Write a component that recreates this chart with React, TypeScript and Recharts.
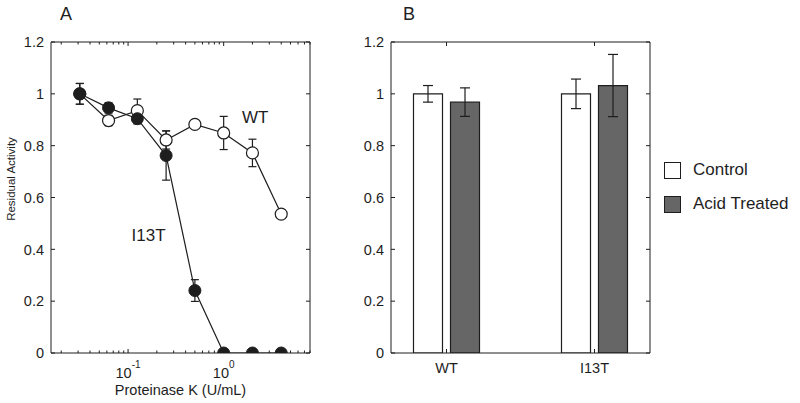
import React from "react";
import {
  LineChart,
  Line,
  BarChart,
  Bar,
  XAxis,
  YAxis,
  ErrorBar,
  Legend,
} from "recharts";

const FONT = "'Liberation Sans', Arial, Helvetica, sans-serif";
const INK = "#1e1e1e";
const GREY = "#666666";

// ---- panel A: proteinase K digestion ----
const doses = [0.03125, 0.0625, 0.125, 0.25, 0.5, 1, 2, 4];
const wtActivity = [1.0, 0.897, 0.935, 0.822, 0.882, 0.849, 0.772, 0.536];
const wtError = [0.04, 0.02, 0.045, 0.035, 0.01, 0.064, 0.053, 0.01];
const i13tActivity = [1.0, 0.946, 0.904, 0.762, 0.241, 0, 0, 0];
const i13tError = [0.04, 0.02, 0.02, 0.095, 0.042, 0, 0, 0];

const doseDomain = [0.015625, 8];
const doseMajorTicks = [0.1, 1];
const doseMinorTicks = [
  0.02, 0.03, 0.04, 0.05, 0.06, 0.07, 0.08, 0.09,
  0.2, 0.3, 0.4, 0.5, 0.6, 0.7, 0.8, 0.9,
  2, 3, 4, 5, 6, 7, 8,
];
const doseTicks = [...doseMinorTicks, ...doseMajorTicks].sort((a, b) => a - b);
const activityDomain = [0, 1.2];
const activityTicks = [0, 0.2, 0.4, 0.6, 0.8, 1, 1.2];

// ---- panel B: acid treatment ----
const strains = ["WT", "I13T"];
const strainPositions = [1, 2];
const strainDomain = [0.625, 2.375];
const controlActivity = [1.0, 1.0];
const controlError = [0.032, 0.057];
const acidActivity = [0.968, 1.032];
const acidError = [0.055, 0.12];
const legendOrder = ["Control", "Acid Treated"];
const legendFill: Record<string, string> = { Control: "#ffffff", "Acid Treated": GREY };

const proteolysisData = doses.map((dose, i) => ({
  dose,
  wt: wtActivity[i],
  wtErr: wtError[i],
  i13t: i13tActivity[i],
  i13tErr: i13tError[i],
}));

const acidData = strains.map((strain, i) => ({
  strain,
  pos: strainPositions[i],
  control: controlActivity[i],
  controlErr: controlError[i],
  acid: acidActivity[i],
  acidErr: acidError[i],
}));

// layout
const CHART_H = 403;
const Y_AXIS_W = 51;
const X_AXIS_H = 50;
const TOP = 42;
const PLOT_H = CHART_H - TOP - X_AXIS_H;
const A_W = 330;
const A_RIGHT = 20;
const B_W = 460;
const B_RIGHT = 150;
const PLOT_W = A_W - Y_AXIS_W - A_RIGHT; // both panels share the same box size

const textProps = { fontFamily: FONT, fill: INK };
const TICK_FONT = 14.5;

// position helpers for the box frame (top/right edges only carry tick marks)
const yPix = (v: number) =>
  TOP + PLOT_H * (1 - (v - activityDomain[0]) / (activityDomain[1] - activityDomain[0]));
const logPix = (v: number) => {
  const lo = Math.log10(doseDomain[0]);
  const hi = Math.log10(doseDomain[1]);
  return Y_AXIS_W + (PLOT_W * (Math.log10(v) - lo)) / (hi - lo);
};
const strainPix = (v: number) =>
  Y_AXIS_W + (PLOT_W * (v - strainDomain[0])) / (strainDomain[1] - strainDomain[0]);

const doseTickLen = (v: number) => (doseMajorTicks.includes(v) ? 4 : 2.5);

// overlay svg that closes the axis box and mirrors the ticks on top/right
function BoxFrame({
  width,
  xTicks,
  xPix,
  tickLen,
}: {
  width: number;
  xTicks: number[];
  xPix: (v: number) => number;
  tickLen: (v: number) => number;
}) {
  const right = Y_AXIS_W + PLOT_W;
  return (
    <svg
      width={width}
      height={CHART_H}
      style={{ position: "absolute", left: 0, top: 0, pointerEvents: "none" }}
    >
      <line x1={Y_AXIS_W} y1={TOP} x2={right} y2={TOP} stroke={INK} />
      <line x1={right} y1={TOP} x2={right} y2={TOP + PLOT_H} stroke={INK} />
      {xTicks.map((v) => (
        <line key={`t${v}`} x1={xPix(v)} y1={TOP} x2={xPix(v)} y2={TOP + tickLen(v)} stroke={INK} />
      ))}
      {activityTicks.map((v) => (
        <line key={`r${v}`} x1={right} y1={yPix(v)} x2={right - 4} y2={yPix(v)} stroke={INK} />
      ))}
    </svg>
  );
}

// ticks point into the plot box, matlab style
function leftTick(props: any) {
  const { x, y, payload } = props;
  return (
    <g>
      <line x1={x} y1={y} x2={x + 4} y2={y} stroke={INK} />
      <text x={x - 7} y={y} dy="0.36em" textAnchor="end" fontSize={TICK_FONT} {...textProps}>
        {String(payload.value)}
      </text>
    </g>
  );
}

function logTick(props: any) {
  const { x, y, payload } = props;
  const major = doseMajorTicks.includes(payload.value);
  const exp = Math.round(Math.log10(payload.value));
  return (
    <g>
      <line x1={x} y1={y} x2={x} y2={y - doseTickLen(payload.value)} stroke={INK} />
      {major && (
        <text x={x} y={y + 25} textAnchor="middle" fontSize={TICK_FONT} {...textProps}>
          10
          <tspan dy={-10} fontSize={10}>
            {exp}
          </tspan>
        </text>
      )}
    </g>
  );
}

function strainTick(props: any) {
  const { x, y, index } = props;
  return (
    <g>
      <line x1={x} y1={y} x2={x} y2={y - 4} stroke={INK} />
      <text x={x} y={y + 19.5} textAnchor="middle" fontSize={TICK_FONT} {...textProps}>
        {strains[index]}
      </text>
    </g>
  );
}

function AcidLegend({ payload }: any) {
  const items = [...(payload ?? [])].sort(
    (a: any, b: any) => legendOrder.indexOf(a.value) - legendOrder.indexOf(b.value)
  );
  return (
    <div style={{ fontFamily: FONT, fontSize: 17, color: INK }}>
      {items.map((entry: any) => (
        <div
          key={entry.value}
          style={{ display: "flex", alignItems: "center", height: 34.3 }}
        >
          <span
            style={{
              width: 15,
              height: 15,
              border: `1.5px solid ${INK}`,
              background: legendFill[entry.value],
              marginRight: 12,
            }}
          />
          <span>{entry.value}</span>
        </div>
      ))}
    </div>
  );
}

const axisLine = { stroke: INK, strokeWidth: 1 };

function ProteolysisPanel() {
  return (
    <LineChart
      width={A_W}
      height={CHART_H}
      data={proteolysisData}
      margin={{ top: TOP, right: A_RIGHT, bottom: 0, left: 0 }}
    >
      <XAxis
        dataKey="dose"
        type="number"
        scale="log"
        domain={doseDomain}
        allowDataOverflow
        ticks={doseTicks}
        interval={0}
        height={X_AXIS_H}
        tickSize={0}
        tickMargin={0}
        tickLine={false}
        axisLine={axisLine}
        tick={logTick}
      />
      <YAxis
        type="number"
        domain={activityDomain}
        allowDataOverflow
        ticks={activityTicks}
        interval={0}
        width={Y_AXIS_W}
        tickSize={0}
        tickMargin={0}
        tickLine={false}
        axisLine={axisLine}
        tick={leftTick}
      />
      <Line
        type="linear"
        dataKey="wt"
        stroke={INK}
        strokeWidth={1.2}
        dot={{ r: 6, fill: "#ffffff", stroke: INK, strokeWidth: 1.2 }}
        isAnimationActive={false}
      >
        <ErrorBar dataKey="wtErr" direction="y" width={4} stroke={INK} strokeWidth={1.2} />
      </Line>
      <Line
        type="linear"
        dataKey="i13t"
        stroke={INK}
        strokeWidth={1.2}
        dot={{ r: 6, fill: INK, stroke: INK, strokeWidth: 1 }}
        isAnimationActive={false}
      >
        <ErrorBar dataKey="i13tErr" direction="y" width={4} stroke={INK} strokeWidth={1.2} />
      </Line>
      <text x={60} y={20} fontSize={18} {...textProps}>A</text>
      <text x={242} y={122.5} fontSize={17} {...textProps}>WT</text>
      <text x={131.5} y={241} fontSize={17} {...textProps}>I13T</text>
      <text x={180.5} y={394.5} textAnchor="middle" fontSize={14.5} {...textProps}>
        Proteinase K (U/mL)
      </text>
      <text
        x={14.5}
        y={179}
        textAnchor="middle"
        fontSize={11.5}
        transform="rotate(-90 14.5 179)"
        {...textProps}
      >
        Residual Activity
      </text>
    </LineChart>
  );
}

function AcidPanel() {
  return (
    <BarChart
      width={B_W}
      height={CHART_H}
      data={acidData}
      margin={{ top: TOP, right: B_RIGHT, bottom: 0, left: 0 }}
      barSize={29}
      barGap={8}
    >
      <XAxis
        dataKey="pos"
        type="number"
        domain={strainDomain}
        allowDataOverflow
        ticks={strainPositions}
        interval={0}
        height={X_AXIS_H}
        tickSize={0}
        tickMargin={0}
        tickLine={false}
        axisLine={axisLine}
        tick={strainTick}
      />
      <YAxis
        type="number"
        domain={activityDomain}
        allowDataOverflow
        ticks={activityTicks}
        interval={0}
        width={Y_AXIS_W}
        tickSize={0}
        tickMargin={0}
        tickLine={false}
        axisLine={axisLine}
        tick={leftTick}
      />
      <Bar
        dataKey="control"
        name="Control"
        fill={legendFill.Control}
        stroke={INK}
        strokeWidth={1.2}
        isAnimationActive={false}
      >
        <ErrorBar dataKey="controlErr" direction="y" width={5} stroke={INK} strokeWidth={1.2} />
      </Bar>
      <Bar
        dataKey="acid"
        name="Acid Treated"
        fill={legendFill["Acid Treated"]}
        stroke={INK}
        strokeWidth={1.2}
        isAnimationActive={false}
      >
        <ErrorBar dataKey="acidErr" direction="y" width={5} stroke={INK} strokeWidth={1.2} />
      </Bar>
      <Legend
        layout="vertical"
        align="center"
        verticalAlign="middle"
        wrapperStyle={{ left: 324, top: 153, width: 136 }}
        content={<AcidLegend />}
      />
      <text x={63} y={20} fontSize={18} {...textProps}>B</text>
    </BarChart>
  );
}

export default function App() {
  return (
    <div
      style={{
        position: "absolute",
        left: 0,
        top: 0,
        width: 800,
        height: 403,
        background: "#ffffff",
      }}
    >
      <div style={{ position: "absolute", left: 0, top: 0, width: A_W, height: CHART_H }}>
        <ProteolysisPanel />
        <BoxFrame width={A_W} xTicks={doseTicks} xPix={logPix} tickLen={doseTickLen} />
      </div>
      <div style={{ position: "absolute", left: 340, top: 0, width: B_W, height: CHART_H }}>
        <AcidPanel />
        <BoxFrame width={B_W} xTicks={strainPositions} xPix={strainPix} tickLen={() => 4} />
      </div>
    </div>
  );
}
